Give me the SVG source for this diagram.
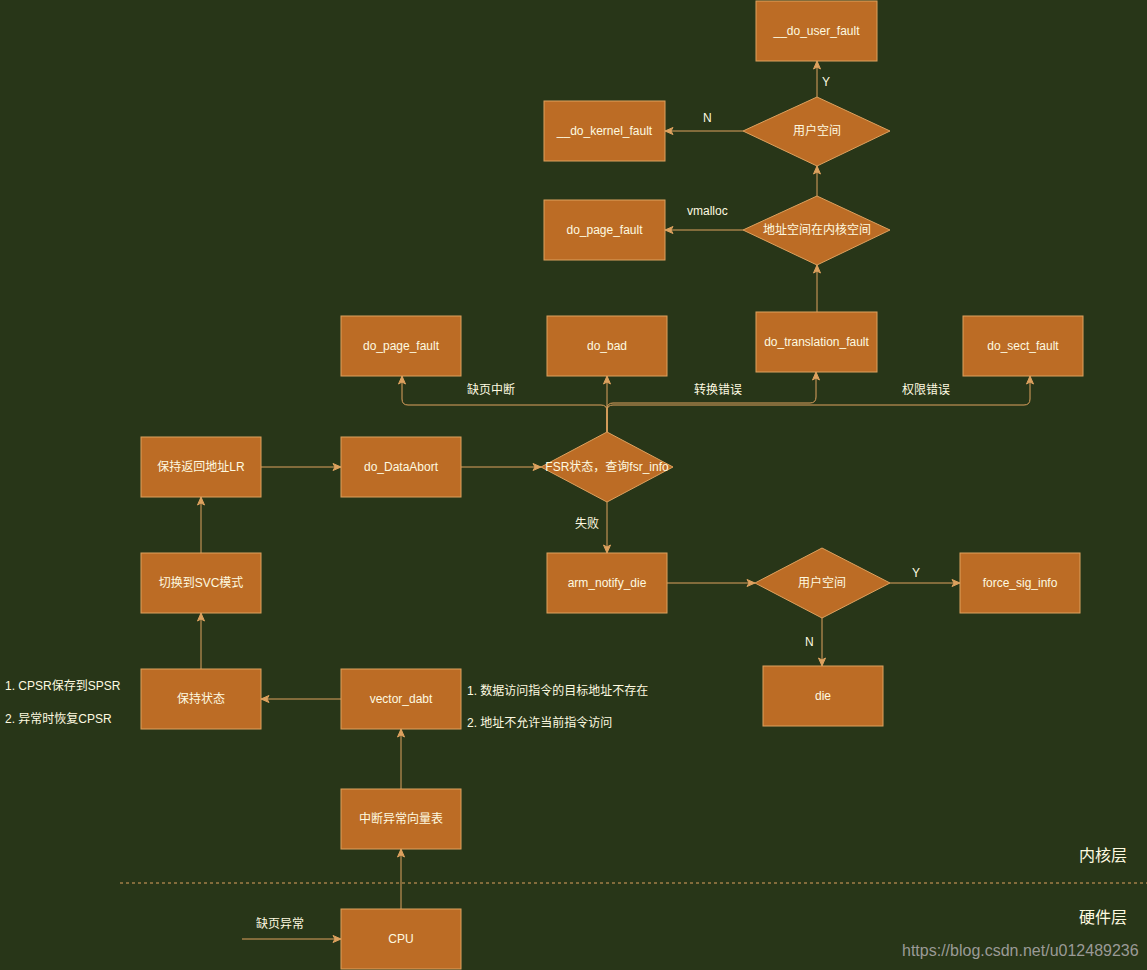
<svg xmlns="http://www.w3.org/2000/svg" width="1147" height="970" viewBox="0 0 1147 970">
<defs>
<style>
.n{fill:#BC6C25;stroke:#DDA15E;stroke-width:1}
.t{font-family:"Liberation Sans",Arial,"Noto Sans CJK SC",sans-serif;font-size:12px;fill:#FEFAE0;text-anchor:middle;dominant-baseline:central}
.l{font-family:"Liberation Sans",Arial,"Noto Sans CJK SC",sans-serif;font-size:12px;fill:#FEFAE0;dominant-baseline:central}
.e{fill:none;stroke:#DDA15E;stroke-width:1;marker-end:url(#a)}
</style>
<marker id="a" viewBox="0 0 10 10" refX="9" refY="5" markerWidth="10" markerHeight="10" markerUnits="userSpaceOnUse" orient="auto">
<path d="M1,1.5 L9,5 L1,8.5 L3,5 Z" fill="#DDA15E" stroke="#DDA15E" stroke-width="1"/>
</marker>
</defs>
<rect width="1147" height="970" fill="#283618"/>

<g id="connectors">
<path class="e" d="M401,909 V849"/>
<path class="e" d="M401,789 V729"/>
<path class="e" d="M341,699 H261"/>
<path class="e" d="M201,669 V613"/>
<path class="e" d="M201,553 V497"/>
<path class="e" d="M261,467 H341"/>
<path class="e" d="M461,467 H541"/>
<path class="e" d="M607,502 V553"/>
<path class="e" d="M667,583 H755"/>
<path class="e" d="M890,583 H960"/>
<path class="e" d="M822,618 V666"/>
<path class="e" d="M242,939 H341"/>
<path class="e" d="M607,432 V411 Q607,405 601,405 H408 Q402,405 402,399 V376"/>
<path class="e" d="M607,432 V376"/>
<path class="e" d="M607,432 V409 Q607,403 613,403 H810 Q816,403 816,397 V372"/>
<path class="e" d="M607,432 V411 Q607,405 613,405 H1024 Q1030,405 1030,399 V376"/>
<path class="e" d="M817,312 V265"/>
<path class="e" d="M817,196 V166"/>
<path class="e" d="M743,230 H665"/>
<path class="e" d="M743,131 H665"/>
<path class="e" d="M817,97 V61"/>
<line x1="120" y1="883" x2="1147" y2="883" stroke="#DDA15E" stroke-width="1" stroke-dasharray="3,3"/>
</g>

<g id="edge-labels">
<text class="l" x="467" y="390">缺页中断</text>
<text class="l" x="694" y="390">转换错误</text>
<text class="l" x="902" y="390">权限错误</text>
<text class="l" x="575" y="524">失败</text>
<text class="l" x="912" y="573">Y</text>
<text class="l" x="805" y="642">N</text>
<text class="l" x="687" y="211">vmalloc</text>
<text class="l" x="703" y="118">N</text>
<text class="l" x="822" y="82">Y</text>
<text class="l" x="256" y="924">缺页异常</text>
</g>

<g id="n-user-fault"><rect class="n" x="756" y="1" width="121" height="60"/><text class="t" x="816.5" y="31">__do_user_fault</text></g>
<g id="n-user-space-top"><polygon class="n" points="817,97 890,131 817,166 743,131"/><text class="t" x="817" y="131">用户空间</text></g>
<g id="n-kernel-fault"><rect class="n" x="544" y="101" width="121" height="60"/><text class="t" x="604.5" y="131">__do_kernel_fault</text></g>
<g id="n-kspace"><polygon class="n" points="817,196 890,230 817,265 743,230"/><text class="t" x="817" y="230">地址空间在内核空间</text></g>
<g id="n-page-fault-top"><rect class="n" x="544" y="200" width="121" height="60"/><text class="t" x="604.5" y="230">do_page_fault</text></g>

<g id="n-page-fault"><rect class="n" x="341" y="316" width="120" height="60"/><text class="t" x="401" y="346">do_page_fault</text></g>
<g id="n-bad"><rect class="n" x="547" y="316" width="120" height="60"/><text class="t" x="607" y="346">do_bad</text></g>
<g id="n-translation"><rect class="n" x="756" y="312" width="121" height="60"/><text class="t" x="816.5" y="342">do_translation_fault</text></g>
<g id="n-sect"><rect class="n" x="963" y="316" width="120" height="60"/><text class="t" x="1023" y="346">do_sect_fault</text></g>

<g id="n-fsr"><polygon class="n" points="607,432 673,467 607,502 541,467"/><text class="t" x="607" y="467">FSR状态，查询fsr_info</text></g>
<g id="n-dataabort"><rect class="n" x="341" y="437" width="120" height="60"/><text class="t" x="401" y="467">do_DataAbort</text></g>
<g id="n-lr"><rect class="n" x="141" y="437" width="120" height="60"/><text class="t" x="201" y="467">保持返回地址LR</text></g>
<g id="n-svc"><rect class="n" x="141" y="553" width="120" height="60"/><text class="t" x="201" y="583">切换到SVC模式</text></g>
<g id="n-state"><rect class="n" x="141" y="669" width="120" height="60"/><text class="t" x="201" y="699">保持状态</text></g>
<g id="n-vector"><rect class="n" x="341" y="669" width="120" height="60"/><text class="t" x="401" y="699">vector_dabt</text></g>
<g id="n-table"><rect class="n" x="341" y="789" width="120" height="60"/><text class="t" x="401" y="819">中断异常向量表</text></g>
<g id="n-cpu"><rect class="n" x="341" y="909" width="120" height="60"/><text class="t" x="401" y="939">CPU</text></g>

<g id="n-notify"><rect class="n" x="547" y="553" width="120" height="60"/><text class="t" x="607" y="583">arm_notify_die</text></g>
<g id="n-user-space-bottom"><polygon class="n" points="822,548 890,583 822,618 755,583"/><text class="t" x="822" y="583">用户空间</text></g>
<g id="n-force"><rect class="n" x="960" y="553" width="120" height="60"/><text class="t" x="1020" y="583">force_sig_info</text></g>
<g id="n-die"><rect class="n" x="763" y="666" width="120" height="60"/><text class="t" x="823" y="696">die</text></g>

<g id="notes">
<text class="l" x="5" y="686">1. CPSR保存到SPSR</text>
<text class="l" x="5" y="719">2. 异常时恢复CPSR</text>
<text class="l" x="467" y="691">1. 数据访问指令的目标地址不存在</text>
<text class="l" x="467" y="723">2. 地址不允许当前指令访问</text>
<text class="l" x="1079" y="855" style="font-size:16px">内核层</text>
<text class="l" x="1079" y="917" style="font-size:16px">硬件层</text>
<text class="l" x="902" y="950" style="font-size:16px;fill:#9a9a96">https://blog.csdn.net/u012489236</text>
</g>
</svg>
